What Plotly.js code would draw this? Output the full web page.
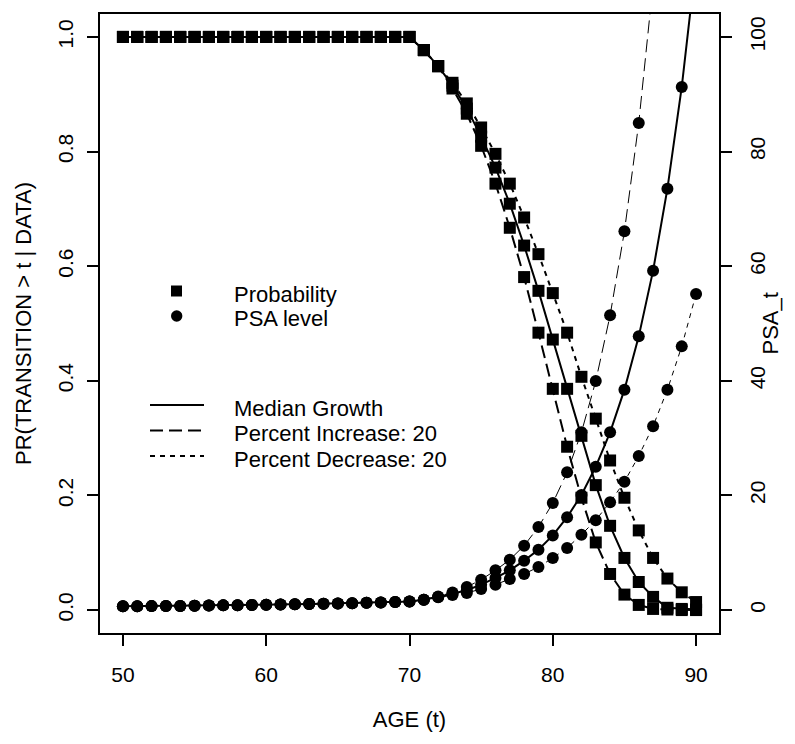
<!DOCTYPE html>
<html>
<head>
<meta charset="utf-8">
<script src="https://cdn.plot.ly/plotly-3.0.1.min.js"></script>
<style>
  html, body { margin: 0; padding: 0; background: #ffffff; }
  #chart { width: 795px; height: 744px; }
</style>
</head>
<body>
<div id="chart"></div>
<script>
// ---------------- data ----------------
const ages = [50,51,52,53,54,55,56,57,58,59,60,61,62,63,64,65,66,67,68,69,70,
              71,72,73,74,75,76,77,78,79,80,81,82,83,84,85,86,87,88,89,90];

const probMedian = [1,1,1,1,1,1,1,1,1,1,1,1,1,1,1,1,1,1,1,1,1,
  0.977,0.949,0.915,0.875,0.826,0.772,0.709,0.636,0.557,0.472,
  0.386,0.304,0.218,0.147,0.091,0.049,0.023,0.004,0.002,0.001];
const probIncrease = [1,1,1,1,1,1,1,1,1,1,1,1,1,1,1,1,1,1,1,1,1,
  0.977,0.949,0.910,0.866,0.810,0.744,0.667,0.581,0.484,0.386,
  0.285,0.196,0.118,0.063,0.027,0.009,0.002,0.001,0.0,0.0];
const probDecrease = [1,1,1,1,1,1,1,1,1,1,1,1,1,1,1,1,1,1,1,1,1,
  0.977,0.949,0.920,0.884,0.842,0.796,0.744,0.685,0.621,0.553,
  0.484,0.407,0.334,0.261,0.196,0.139,0.091,0.055,0.031,0.014];

const psaMedian = [0.65,0.67,0.69,0.71,0.73,0.76,0.79,0.82,0.85,0.89,0.93,
  0.97,1.01,1.06,1.11,1.16,1.21,1.27,1.33,1.40,1.48,1.80,2.30,2.86,
  3.45,4.43,5.60,6.93,8.62,10.54,13.03,16.21,20.08,25.02,31.01,38.46,
  47.76,59.22,73.53,91.28,113.2];
const psaIncrease = [0.65,0.67,0.69,0.71,0.73,0.76,0.79,0.82,0.85,0.89,0.93,
  0.97,1.01,1.06,1.11,1.16,1.21,1.27,1.33,1.40,1.48,1.80,2.38,3.05,
  4.03,5.30,6.93,8.79,11.24,14.50,18.69,24.03,31.02,39.96,51.42,66.08,
  85.0,109.3,140.6,180.8,232.5];
const psaDecrease = [0.65,0.67,0.69,0.71,0.73,0.76,0.79,0.82,0.85,0.89,0.93,
  0.97,1.01,1.06,1.11,1.16,1.21,1.27,1.33,1.40,1.48,1.80,2.22,2.62,
  2.98,3.68,4.43,5.43,6.30,7.52,9.09,10.84,13.16,15.69,18.83,22.40,
  26.89,32.09,38.46,46.01,55.16];

const xTickVals = [50,60,70,80,90];
const yTickVals = [0,0.2,0.4,0.6,0.8,1.0];
const yTickText = ['0.0','0.2','0.4','0.6','0.8','1.0'];
const y2TickVals = [0,20,40,60,80,100];

const xTitle = 'AGE (t)';
const yTitle = 'PR(TRANSITION > t | DATA)';
const y2Title = 'PSA_t';
const markerLegendLabels = ['Probability', 'PSA level'];
const lineLegendLabels = ['Median Growth', 'Percent Increase: 20', 'Percent Decrease: 20'];

// ---------------- styling ----------------
const FONT = 'Liberation Sans, Arial, Helvetica, sans-serif';
const W = 795, H = 744;
const M = {l: 100, r: 76, t: 14, b: 111};
const dashStyles = ['solid', '13px,6px', '5px,5px'];
const msize = 12;

function trace(x, y, axis, symbol, dash, lw) {
  return {
    x: x, y: y, yaxis: axis, type: 'scatter', mode: 'lines+markers',
    line: {color: '#000', width: lw, dash: dash},
    marker: {symbol: symbol, size: msize, color: '#000', line: {width: 0}},
    showlegend: false, hoverinfo: 'skip'
  };
}

const data = [
  trace(ages, probMedian, 'y', 'square', dashStyles[0], 2),
  trace(ages, probIncrease, 'y', 'square', dashStyles[1], 2),
  trace(ages, probDecrease, 'y', 'square', dashStyles[2], 2),
  trace(ages, psaMedian, 'y2', 'circle', dashStyles[0], 2),
  trace(ages, psaIncrease, 'y2', 'circle', dashStyles[1], 1),
  trace(ages, psaDecrease, 'y2', 'circle', dashStyles[2], 1)
];

// pixel -> paper helpers for the hand-made legend
const PW = W - M.l - M.r, PH = H - M.t - M.b;
const px = v => (v - M.l) / PW;
const py = v => (H - M.b - v) / PH;

const shapes = [];
const annotations = [];
// marker legend
shapes.push({type: 'rect', xref: 'paper', yref: 'paper',
  x0: px(171), x1: px(182), y0: py(285.5), y1: py(296.5),
  fillcolor: '#000', line: {width: 0}});
shapes.push({type: 'circle', xref: 'paper', yref: 'paper',
  x0: px(171), x1: px(182.4), y0: py(310.3), y1: py(321.7),
  fillcolor: '#000', line: {width: 0}});
const markerLegendY = [294, 318.5];
markerLegendLabels.forEach((t, i) => annotations.push({
  xref: 'paper', yref: 'paper', x: px(232), y: py(markerLegendY[i]),
  xanchor: 'left', yanchor: 'middle', showarrow: false, text: t,
  font: {family: FONT, size: 22, color: '#000'}
}));
// line legend
const lineLegendY = [405, 430.5, 456];
lineLegendLabels.forEach((t, i) => {
  shapes.push({type: 'line', xref: 'paper', yref: 'paper',
    x0: px(150), x1: px(204), y0: py(lineLegendY[i]), y1: py(lineLegendY[i]),
    line: {color: '#000', width: 2, dash: dashStyles[i]}});
  annotations.push({
    xref: 'paper', yref: 'paper', x: px(232), y: py(lineLegendY[i] + 3),
    xanchor: 'left', yanchor: 'middle', showarrow: false, text: t,
    font: {family: FONT, size: 22, color: '#000'}
  });
});
// right axis title
annotations.push({
  xref: 'paper', yref: 'paper', x: px(770), y: 0.5, textangle: -90,
  xanchor: 'center', yanchor: 'middle', showarrow: false, text: y2Title,
  font: {family: FONT, size: 22, color: '#000'}
});

const axisCommon = {
  showgrid: false, zeroline: false, showline: true, linecolor: '#000', linewidth: 2,
  ticks: 'outside', ticklen: 11, tickwidth: 2, tickcolor: '#000',
  tickfont: {family: FONT, size: 21, color: '#000'}
};

const layout = {
  width: W, height: H,
  margin: M,
  paper_bgcolor: '#fff', plot_bgcolor: '#fff',
  font: {family: FONT, color: '#000'},
  showlegend: false,
  xaxis: Object.assign({}, axisCommon, {
    range: [48.4, 91.6], tickmode: 'array', tickvals: xTickVals, mirror: true,
    ticklabelstandoff: 11,
    title: {text: xTitle, font: {family: FONT, size: 22, color: '#000'}, standoff: 26}
  }),
  yaxis: Object.assign({}, axisCommon, {
    range: [-0.04, 1.04], tickmode: 'array', tickvals: yTickVals, ticktext: yTickText,
    tickangle: -90, mirror: true, ticklabelstandoff: 6,
    title: {text: yTitle, font: {family: FONT, size: 22, color: '#000'}, standoff: 16}
  }),
  yaxis2: Object.assign({}, axisCommon, {
    range: [-4, 104], tickmode: 'array', tickvals: y2TickVals,
    tickangle: -90, overlaying: 'y', side: 'right', anchor: 'x',
    ticklabelstandoff: 8
  }),
  shapes: shapes,
  annotations: annotations
};

Plotly.newPlot('chart', data, layout, {displayModeBar: false, staticPlot: true});
</script>
</body>
</html>
